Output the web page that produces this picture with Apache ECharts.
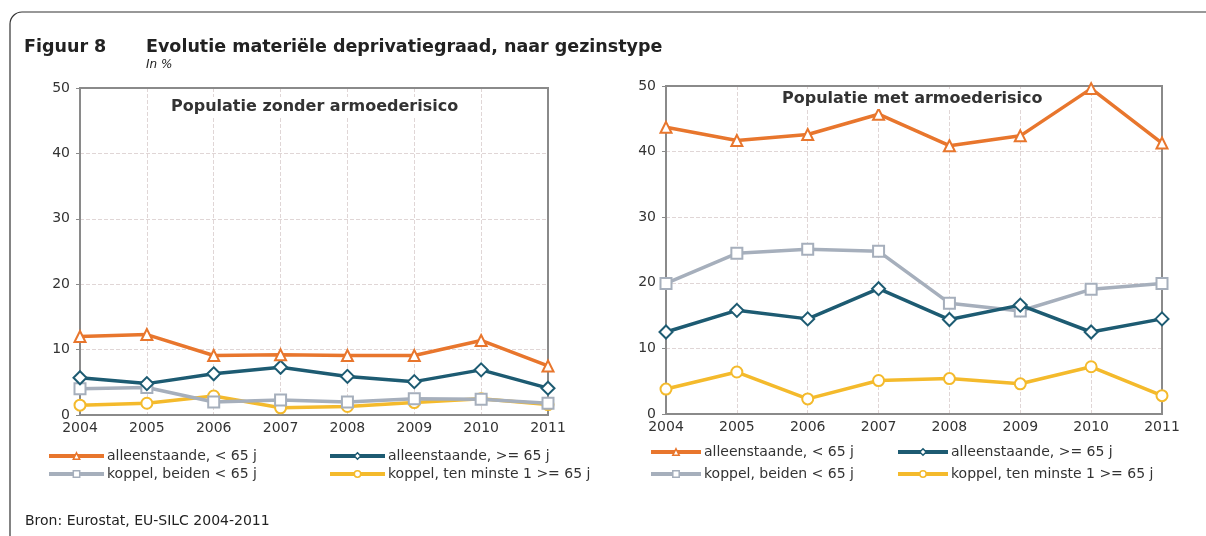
<!DOCTYPE html>
<html lang="nl">
<head>
    <meta charset="UTF-8">
    <title>Figuur 8 - materiële deprivatiegraad</title>
    <script type="text/javascript" src="https://cdn.jsdelivr.net/npm/echarts@6/dist/echarts.min.js"></script>
    <style>
        html, body { margin: 0; padding: 0; background: #fff; }
    </style>
</head>
<body>
<div id="chart" style="width:1206px;height:536px;"></div>
<script type="text/javascript">
    // data
    var years = ['2004', '2005', '2006', '2007', '2008', '2009', '2010', '2011'];
    var names = ['alleenstaande, < 65 j', 'alleenstaande, >= 65 j', 'koppel, beiden < 65 j', 'koppel, ten minste 1 >= 65 j'];

    // zonder armoederisico
    var zonderAlleenJong = [12.0, 12.3, 9.1, 9.2, 9.1, 9.1, 11.4, 7.5];
    var zonderAlleenOud = [5.7, 4.8, 6.3, 7.3, 5.9, 5.1, 6.9, 4.1];
    var zonderKoppelJong = [4.0, 4.2, 2.0, 2.3, 2.0, 2.5, 2.4, 1.8];
    var zonderKoppelOud = [1.5, 1.8, 2.9, 1.1, 1.3, 1.9, 2.5, 1.6];

    // met armoederisico
    var metAlleenJong = [43.7, 41.7, 42.6, 45.7, 40.9, 42.4, 49.6, 41.3];
    var metAlleenOud = [12.5, 15.8, 14.5, 19.1, 14.4, 16.6, 12.5, 14.5];
    var metKoppelJong = [19.9, 24.5, 25.1, 24.8, 16.9, 15.7, 19.0, 19.9];
    var metKoppelOud = [3.8, 6.4, 2.3, 5.1, 5.4, 4.6, 7.2, 2.8];

    var kleuren = ['#E8762D', '#1D5B72', '#A6AFBC', '#F4BA2C'];
    var symbolen = ['triangle', 'diamond', 'rect', 'circle'];
    var font = 'DejaVu Sans';

    var myChart = echarts.init(document.getElementById('chart'));

    function maakSerie(i, data, idx) {
        return {
            name: names[i],
            type: 'line',
            xAxisIndex: idx,
            yAxisIndex: idx,
            data: data,
            symbol: symbolen[i],
            symbolSize: i === 1 ? 13 : 11,
            showAllSymbol: true,
            lineStyle: { color: kleuren[i], width: 3.5 },
            itemStyle: { color: '#fff', borderColor: kleuren[i], borderWidth: 2 },
            emphasis: { disabled: true },
            z: 10 - i
        };
    }

    function xAs(idx) {
        return {
            type: 'category',
            gridIndex: idx,
            data: years,
            boundaryGap: false,
            axisLine: { lineStyle: { color: '#8a8a8a', width: 2 } },
            axisTick: { show: false },
            axisLabel: { color: '#333', fontSize: 14, fontFamily: font, margin: 6 },
            splitLine: { show: true, lineStyle: { color: '#e0d6d6', type: 'dashed', width: 1 } }
        };
    }

    function yAs(idx) {
        return {
            type: 'value',
            gridIndex: idx,
            min: 0,
            max: 50,
            interval: 10,
            axisLine: { show: true, lineStyle: { color: '#8a8a8a', width: 2 } },
            axisTick: { show: true, length: 4, lineStyle: { color: '#8a8a8a' } },
            axisLabel: { color: '#333', fontSize: 14, fontFamily: font, margin: 10 },
            splitLine: { show: true, lineStyle: { color: '#e0d6d6', type: 'dashed', width: 1 } }
        };
    }

    function legende(left, top, breedte, gap, data) {
        return {
            orient: 'vertical',
            left: left,
            top: top,
            padding: 0,
            itemGap: gap,
            itemWidth: breedte,
            itemHeight: 8,
            selectedMode: false,
            data: data,
            lineStyle: { width: 4 },
            itemStyle: { borderWidth: 1.5 },
            textStyle: { color: '#333', fontSize: 14, fontFamily: font, padding: [0, 0, 0, -2] }
        };
    }

    var option = {
        animation: false,
        textStyle: { fontFamily: font },
        grid: [
            { left: 80, top: 88, width: 468, height: 327, show: true, z: 5, borderColor: '#8a8a8a', borderWidth: 2, backgroundColor: 'transparent' },
            { left: 666, top: 86, width: 496, height: 328, show: true, z: 5, borderColor: '#8a8a8a', borderWidth: 2, backgroundColor: 'transparent' }
        ],
        xAxis: [xAs(0), xAs(1)],
        yAxis: [yAs(0), yAs(1)],
        legend: [
            legende(47, 449, 55, 4, [names[0], names[2]]),
            legende(328, 449, 55, 4, [names[1], names[3]]),
            legende(649, 445, 50, 8, [names[0], names[2]]),
            legende(896, 445, 50, 8, [names[1], names[3]])
        ],
        graphic: [
            {
                type: 'rect',
                shape: { x: 10, y: 12, width: 1230, height: 560, r: 12 },
                style: { fill: 'none', stroke: '#333', lineWidth: 1.2 },
                silent: true
            },
            {
                type: 'text', left: 24, top: 38,
                style: { text: 'Figuur 8', fontSize: 17.5, fontWeight: 'bold', fill: '#222', fontFamily: font }
            },
            {
                type: 'text', left: 146, top: 38,
                style: { text: 'Evolutie materiële deprivatiegraad, naar gezinstype', fontSize: 17.5, fontWeight: 'bold', fill: '#222', fontFamily: font }
            },
            {
                type: 'text', left: 146, top: 59,
                style: { text: 'In %', fontSize: 12, fontStyle: 'italic', fill: '#222', fontFamily: font }
            },
            {
                type: 'text', left: 168, top: 97, z: 20,
                style: { text: 'Populatie zonder armoederisico', fontSize: 16, fontWeight: 'bold', fill: '#333', fontFamily: font,
                    backgroundColor: '#fff', padding: [2, 3, 2, 3] }
            },
            {
                type: 'text', left: 779, top: 89, z: 20,
                style: { text: 'Populatie met armoederisico', fontSize: 16, fontWeight: 'bold', fill: '#333', fontFamily: font,
                    backgroundColor: '#fff', padding: [2, 3, 2, 3] }
            },
            {
                type: 'text', left: 25, top: 514,
                style: { text: 'Bron: Eurostat, EU-SILC 2004-2011', fontSize: 14, fill: '#222', fontFamily: font }
            }
        ],
        series: [
            maakSerie(3, zonderKoppelOud, 0),
            maakSerie(2, zonderKoppelJong, 0),
            maakSerie(1, zonderAlleenOud, 0),
            maakSerie(0, zonderAlleenJong, 0),
            maakSerie(3, metKoppelOud, 1),
            maakSerie(2, metKoppelJong, 1),
            maakSerie(1, metAlleenOud, 1),
            maakSerie(0, metAlleenJong, 1)
        ]
    };
    myChart.setOption(option);
</script>
</body>
</html>
